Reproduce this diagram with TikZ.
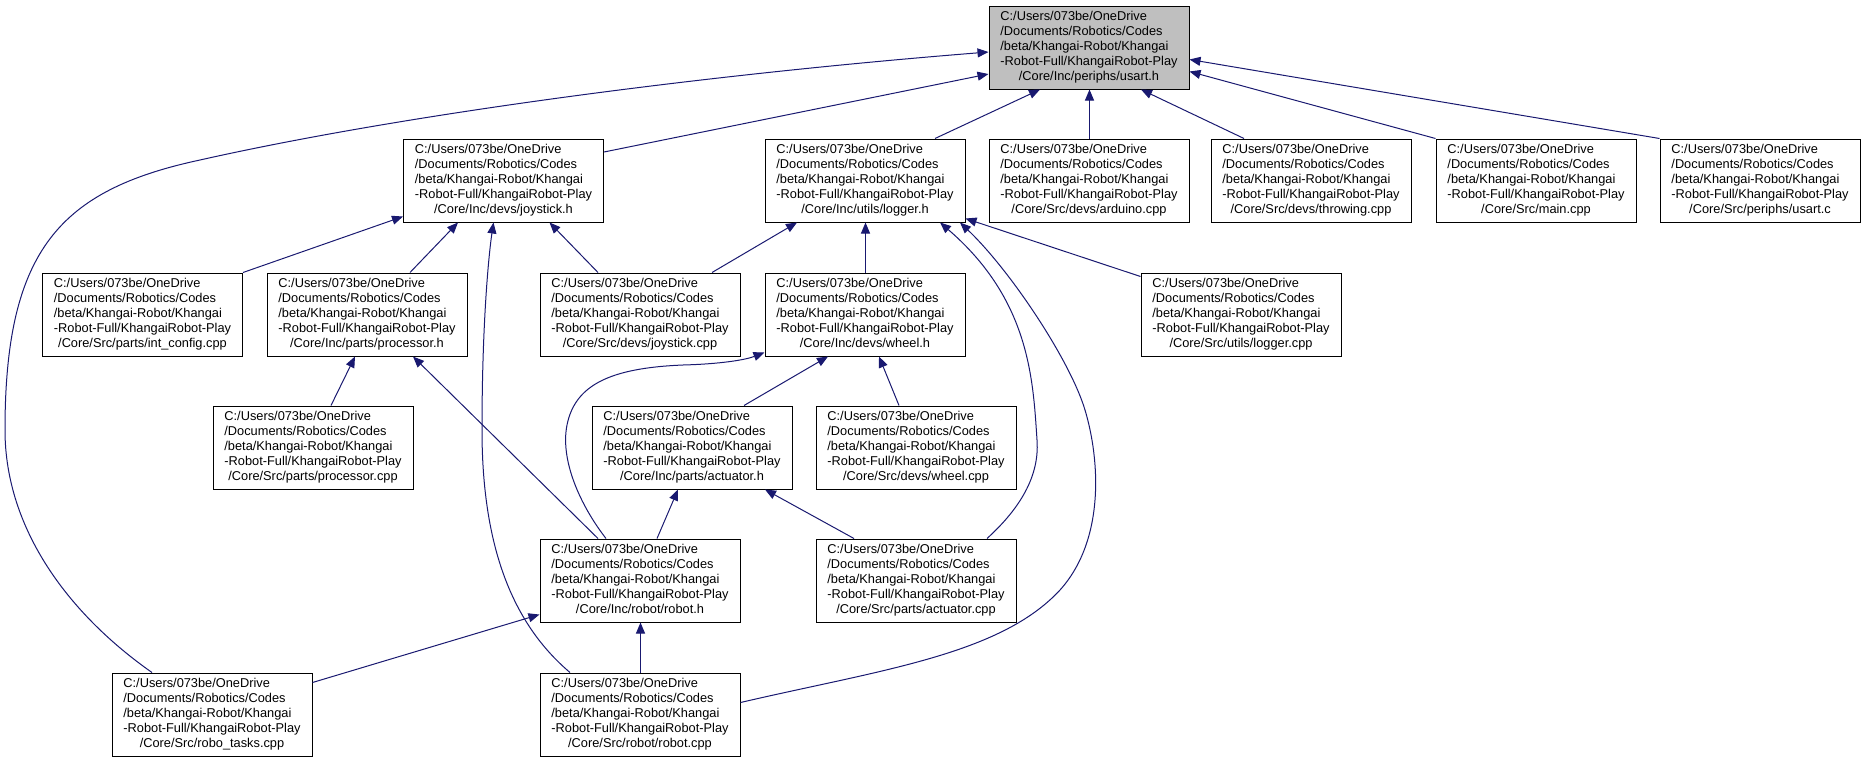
\documentclass[tikz,border=0pt]{standalone}
\usepackage{fontspec}
\setmainfont{Liberation Sans}
\usetikzlibrary{arrows.meta,calc}
\definecolor{edgeblue}{HTML}{191970}
\definecolor{topgray}{HTML}{BFBFBF}
\newcommand{\pathlbl}[1]{\begin{tabular}{@{}l@{}}C:/Users/073be/OneDrive\\/Documents/Robotics/Codes\\/beta/Khangai-Robot/Khangai\\-Robot-Full/KhangaiRobot-Play\\\multicolumn{1}{@{}c@{}}{#1}\end{tabular}}
\tikzset{
  filebox/.style={draw=black, line width=1pt, minimum width=200pt, minimum height=83pt,
    inner sep=0pt, fill=white, font=\fontsize{12.8}{15}\selectfont},
  edge/.style={draw=edgeblue, line width=1pt, -{Triangle[length=11pt,width=9pt]}}
}
\begin{document}
\begin{tikzpicture}[x=1pt,y=-1pt]
\useasboundingbox (0,0) rectangle (1867,763);
% row 1
\node[filebox, fill=topgray] (us) at (1089,47.5) {\pathlbl{/Core/Inc/periphs/usart.h}};
% row 2
\node[filebox] (js) at (503.5,180.5) {\pathlbl{/Core/Inc/devs/joystick.h}};
\node[filebox] (lg) at (865,180.5) {\pathlbl{/Core/Inc/utils/logger.h}};
\node[filebox] (ad) at (1089,180.5) {\pathlbl{/Core/Src/devs/arduino.cpp}};
\node[filebox] (th) at (1311,180.5) {\pathlbl{/Core/Src/devs/throwing.cpp}};
\node[filebox] (mn) at (1536,180.5) {\pathlbl{/Core/Src/main.cpp}};
\node[filebox] (uc) at (1760,180.5) {\pathlbl{/Core/Src/periphs/usart.c}};
% row 3
\node[filebox] (ic) at (142.5,314.5) {\pathlbl{/Core/Src/parts/int\_config.cpp}};
\node[filebox] (pr) at (367,314.5) {\pathlbl{/Core/Inc/parts/processor.h}};
\node[filebox] (jc) at (640,314.5) {\pathlbl{/Core/Src/devs/joystick.cpp}};
\node[filebox] (wh) at (865,314.5) {\pathlbl{/Core/Inc/devs/wheel.h}};
\node[filebox] (lc) at (1241,314.5) {\pathlbl{/Core/Src/utils/logger.cpp}};
% row 4
\node[filebox] (pc) at (313,447.5) {\pathlbl{/Core/Src/parts/processor.cpp}};
\node[filebox] (at) at (692,447.5) {\pathlbl{/Core/Inc/parts/actuator.h}};
\node[filebox] (wc) at (916,447.5) {\pathlbl{/Core/Src/devs/wheel.cpp}};
% row 5
\node[filebox] (rh) at (640,580.5) {\pathlbl{/Core/Inc/robot/robot.h}};
\node[filebox] (ac) at (916,580.5) {\pathlbl{/Core/Src/parts/actuator.cpp}};
% row 6
\node[filebox] (rt) at (212,714.5) {\pathlbl{/Core/Src/robo\_tasks.cpp}};
\node[filebox] (rc) at (640,714.5) {\pathlbl{/Core/Src/robot/robot.cpp}};

% edges to usart.h
\draw[edge] ($(rt.north)+(-60,0)$) .. controls (70,615) and (5,530) .. (5,430)
  .. controls (5,250) and (60,190) .. (200,160)
  .. controls (400,115) and (700,75) .. ($(us.west)+(0,4.5)$);
\draw[edge] ($(js.east)+(0,-28.5)$) -- ($(us.west)+(0,26.5)$);
\draw[edge] ($(lg.north)+(70,0)$) -- ($(us.south)+(-49,0)$);
\draw[edge] ($(ad.north)+(0.5,0)$) -- ($(us.south)+(0.5,0)$);
\draw[edge] ($(th.north)+(-67,0)$) -- ($(us.south)+(52,0)$);
\draw[edge] (mn.north west) -- ($(us.east)+(0,24)$);
\draw[edge] (uc.north west) -- ($(us.east)+(0,12)$);
% edges to joystick.h
\draw[edge] (ic.north east) -- ($(js.west)+(0,36)$);
\draw[edge] ($(pr.north)+(43,0)$) -- ($(js.south)+(-45.5,0)$);
\draw[edge] ($(jc.north)+(-42,0)$) -- ($(js.south)+(46,0)$);
\draw[edge] ($(rc.north)+(-70,0)$) .. controls (520,630) and (482,560) .. (482,430)
  .. controls (482,330) and (488,260) .. ($(js.south)+(-10,0)$);
% edges to processor.h
\draw[edge] ($(pc.north)+(18,0)$) -- ($(pr.south)+(-12,0)$);
\draw[edge] ($(rh.north)+(-42,0)$) -- ($(pr.south)+(46,0)$);
% edges to logger.h
\draw[edge] ($(jc.north)+(72,0)$) -- ($(lg.south)+(-68,0)$);
\draw[edge] ($(wh.north)+(0.5,0)$) -- ($(lg.south)+(0.5,0)$);
\draw[edge] ($(ac.north)+(71,0)$) .. controls (1015,513) and (1040,480) .. (1037,440)
  .. controls (1033,380) and (1030,300) .. ($(lg.south)+(75,0)$);
\draw[edge] ($(rc.east)+(0,-12)$) .. controls (880,670) and (1000,655) .. (1060,590)
  .. controls (1105,540) and (1100,460) .. (1085,410)
  .. controls (1070,360) and (1010,270) .. ($(lg.south)+(95,0)$);
\draw[edge] ($(lc.north west)+(0,4)$) -- ($(lg.east)+(0,38)$);
% edges to wheel.h
\draw[edge] ($(rh.north)+(-34,0)$) .. controls (580,505) and (560,460) .. (567,425)
  .. controls (575,385) and (610,368) .. (683,365)
  .. controls (720,364) and (745,360) .. ($(wh.west)+(0,38)$);
\draw[edge] ($(at.north)+(52,0)$) -- ($(wh.south)+(-37,0)$);
\draw[edge] ($(wc.north)+(-17,0)$) -- ($(wh.south)+(14,0)$);
% edges to actuator.h
\draw[edge] ($(rh.north)+(17,0)$) -- ($(at.south)+(-14,0)$);
\draw[edge] ($(ac.north)+(-62,0)$) -- ($(at.south)+(73,0)$);
% edges to robot.h
\draw[edge] ($(rt.east)+(0,-32)$) -- ($(rh.west)+(0,34)$);
\draw[edge] ($(rc.north)+(0.5,0)$) -- ($(rh.south)+(0.5,0)$);
\end{tikzpicture}
\end{document}
